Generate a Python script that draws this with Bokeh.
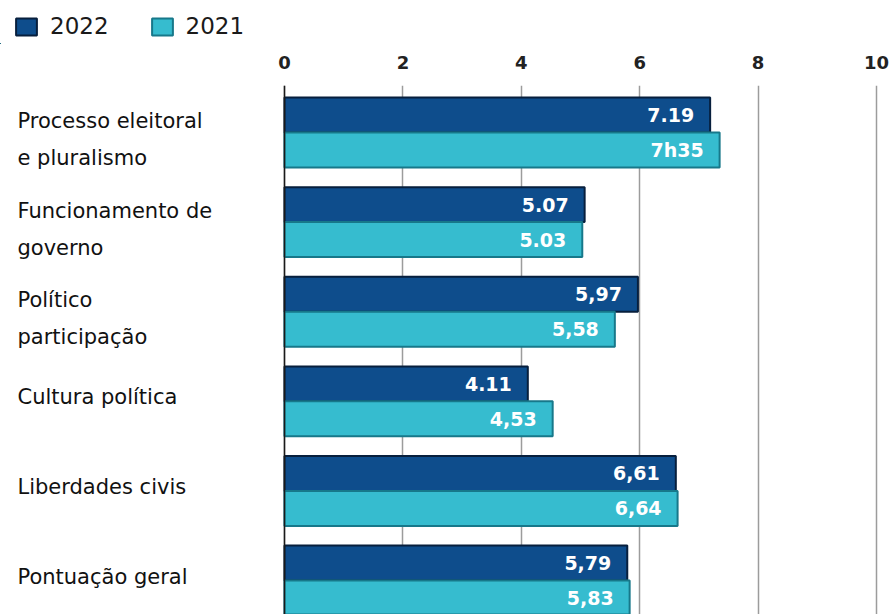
import numpy as np
from bokeh.plotting import figure
from bokeh.layouts import column
from bokeh.models import (ColumnDataSource, Range1d, FixedTicker, Span, Legend, LegendItem)
from bokeh.core.properties import value
from bokeh.embed import file_html
from bokeh.resources import INLINE

# ---- data ----
categories = ["Processo eleitoral\ne pluralismo", "Funcionamento de\ngoverno", "Político\nparticipação",
              "Cultura política", "Liberdades civis", "Pontuação geral"]
values_2022 = [7.19, 5.07, 5.97, 4.11, 6.61, 5.79]
values_2021 = [7.35, 5.03, 5.58, 4.53, 6.64, 5.83]
labels_2022 = ["7.19", "5.07", "5,97", "4.11", "6,61", "5,79"]
labels_2021 = ["7h35", "5.03", "5,58", "4,53", "6,64", "5,83"]
series_names = ["2022", "2021"]
x_ticks = [0, 2, 4, 6, 8, 10]

# ---- styles ----
DARK_FILL, DARK_LINE = "#0e4d8c", "#071f3d"
LIGHT_FILL, LIGHT_LINE = "#36bccf", "#17788a"
FONT = "DejaVu Sans"
BAR_H = 0.39
DODGE = 0.195

n = len(categories)
ys = -np.arange(n, dtype=float)
cat_offsets = [7 if "\n" in c else -4 for c in categories]  # screen-px nudge (style)

src = ColumnDataSource(dict(
    cat=categories, y=ys, yoff=cat_offsets,
    y22=ys + DODGE, y21=ys - DODGE,
    v22=values_2022, v21=values_2021,
    l22=labels_2022, l21=labels_2021,
    zero=[0] * n,
))

W = 893
LEG_H = 44
MAIN_H = 614 - LEG_H

# ---- legend strip (same renderers' data, out of view) ----
lf = figure(width=W, height=LEG_H, output_backend="svg", toolbar_location=None,
            min_border=0, x_range=Range1d(100, 101), y_range=Range1d(100, 101))
lf.axis.visible = False
lf.grid.visible = False
lf.outline_line_color = None
lr22 = lf.hbar(y="y22", left="zero", right="v22", height=BAR_H, source=src,
               fill_color=DARK_FILL, line_color=DARK_LINE, line_width=2)
lr21 = lf.hbar(y="y21", left="zero", right="v21", height=BAR_H, source=src,
               fill_color=LIGHT_FILL, line_color=LIGHT_LINE, line_width=2)
legend = Legend(items=[LegendItem(label=series_names[0], renderers=[lr22]),
                       LegendItem(label=series_names[1], renderers=[lr21])],
                orientation="horizontal", location="top_left",
                border_line_color=None, background_fill_alpha=0,
                padding=0, margin=13, spacing=40,
                glyph_width=26, glyph_height=21, label_standoff=11,
                label_text_font=FONT, label_text_font_size="23px",
                label_text_color="#1a1a1a", label_height=21)
lf.add_layout(legend)

# ---- main chart ----
p = figure(width=W, height=MAIN_H, output_backend="svg", toolbar_location=None,
           x_range=Range1d(-4.797, 10.287), y_range=Range1d(-5.379, 0.5246),
           x_axis_location="above", min_border_left=0, min_border_right=0,
           min_border_bottom=0, min_border_top=85 - LEG_H)
p.outline_line_color = None
p.background_fill_color = "white"
p.border_fill_color = "white"

p.yaxis.visible = False
xa = p.xaxis[0]
xa.ticker = FixedTicker(ticks=x_ticks)
xa.axis_line_color = None
xa.major_tick_line_color = None
xa.minor_tick_line_color = None
xa.major_label_standoff = 11
xa.major_label_text_font = FONT
xa.major_label_text_font_style = "bold"
xa.major_label_text_font_size = "18px"
xa.major_label_text_color = "#222222"

p.ygrid.visible = False
p.xgrid.ticker = FixedTicker(ticks=x_ticks)
p.xgrid.grid_line_color = "#9c9c9c"
p.xgrid.grid_line_width = 1.5

r22 = p.hbar(y="y22", left="zero", right="v22", height=BAR_H, source=src,
             fill_color=DARK_FILL, line_color=DARK_LINE, line_width=2)
r21 = p.hbar(y="y21", left="zero", right="v21", height=BAR_H, source=src,
             fill_color=LIGHT_FILL, line_color=LIGHT_LINE, line_width=2)

p.add_layout(Span(location=0, dimension="height", line_color="#1a1a1a", line_width=1.5))

for ycol, vcol, lcol in (("y22", "v22", "l22"), ("y21", "v21", "l21")):
    p.text(x=vcol, y=ycol, text=lcol, source=src, x_offset=-16,
           text_align="right", text_baseline="middle", text_color="white",
           text_font=value(FONT), text_font_style="bold", text_font_size="19px")

p.text(x="zero", y="y", text="cat", source=src, x_offset=-267, y_offset="yoff",
       text_align="left", text_baseline="middle", text_color="#111111",
       text_font=value(FONT), text_font_size="21px", text_line_height=1.55)

layout = column(lf, p, spacing=0)
open("out.html", "w").write(file_html(layout, INLINE))
